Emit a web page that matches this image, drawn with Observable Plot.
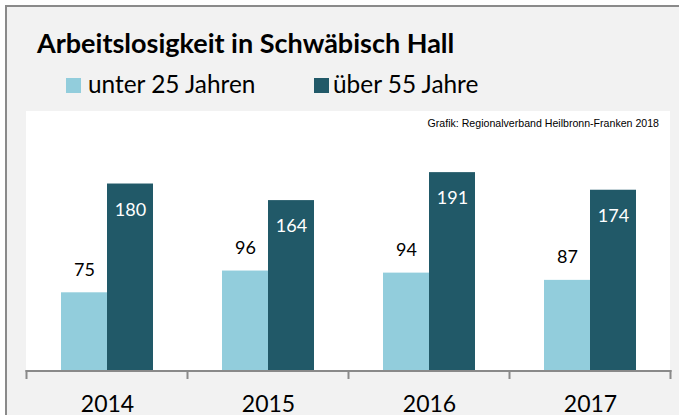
<!DOCTYPE html>
<html>
<head>
<meta charset="utf-8">
<script src="https://cdn.jsdelivr.net/npm/d3@7"></script>
<script src="https://cdn.jsdelivr.net/npm/@observablehq/plot@0.6"></script>
<style>
  html, body { margin: 0; padding: 0; background: #ffffff; }
  #page { position: relative; width: 679px; height: 415px; overflow: hidden; background: #ffffff; }
  #frame { position: absolute; left: 5px; top: 5px; right: -10px; bottom: -10px;
           border-left: 2px solid #8a8a8a; border-top: 2px solid #8a8a8a; background: #f2f2f2; }
  #white { position: absolute; left: 26px; top: 111px; width: 644px; height: 259px; background: #ffffff; }
  #title { position: absolute; left: 37px; top: 29px; font-family: Lato, sans-serif; font-weight: bold;
           font-size: 27px; line-height: 1; color: #000; white-space: nowrap; }
  .leg { position: absolute; top: 72px; font-family: Lato, sans-serif; font-size: 24.4px; line-height: 1;
         color: #000; white-space: nowrap; }
  .sw { position: absolute; top: 78px; width: 15px; height: 15px; }
  #credit { position: absolute; right: 20px; top: 118px; font-family: "Liberation Sans", Arial, sans-serif;
            font-size: 10.6px; line-height: 1; color: #000; white-space: nowrap; }
  #chart { position: absolute; left: 0; top: 111px; }
  #chart svg text { font-weight: normal; }
</style>
</head>
<body>
<div id="page">
  <div id="frame"></div>
  <div id="white"></div>
  <div id="title"></div>
  <div id="legend"></div>
  <div id="credit"></div>
  <div id="chart"></div>
</div>
<script>
const titleText = "Arbeitslosigkeit in Schwäbisch Hall";
const creditText = "Grafik: Regionalverband Heilbronn-Franken 2018";
const years = ["2014", "2015", "2016", "2017"];
const seriesNames = ["unter 25 Jahren", "über 55 Jahre"];
const seriesColors = ["#92cddc", "#215968"];
const under25 = [75, 96, 94, 87];
const over55 = [180, 164, 191, 174];

document.getElementById("title").textContent = titleText;
document.getElementById("credit").textContent = creditText;

// legend
const legend = document.getElementById("legend");
const legendSwatchX = [66, 314];
const legendTextX = [88, 333];
seriesNames.forEach((name, i) => {
  const sw = document.createElement("div");
  sw.className = "sw";
  sw.style.left = legendSwatchX[i] + "px";
  sw.style.background = seriesColors[i];
  legend.appendChild(sw);
  const t = document.createElement("div");
  t.className = "leg";
  t.style.left = legendTextX[i] + "px";
  t.textContent = name;
  legend.appendChild(t);
});

const rows = [];
years.forEach((y, i) => {
  rows.push({year: y, series: seriesNames[0], value: under25[i]});
  rows.push({year: y, series: seriesNames[1], value: over55[i]});
});

const plot = Plot.plot({
  width: 679,
  height: 304,
  marginLeft: 26,
  marginRight: 9,
  marginTop: 0,
  marginBottom: 45,
  style: {background: "transparent", fontFamily: "Lato, sans-serif", fontSize: "23px", color: "#000"},
  facet: {data: rows, x: "year"},
  fx: {domain: years, paddingInner: 0.4286, paddingOuter: 0.2143, axis: "bottom", label: null, tickSize: 0, tickPadding: 25},
  x: {domain: seriesNames, padding: 0, axis: null},
  y: {domain: [0, 250], axis: null},
  color: {domain: seriesNames, range: seriesColors},
  marks: [
    Plot.barY(rows, {x: "series", y: "value", fill: "series"}),
    Plot.text(rows, {filter: d => d.series === seriesNames[0], x: "series", y: "value", text: d => String(d.value),
      dy: -23, fill: "#000", fontSize: 18, fontFamily: "Lato, sans-serif"}),
    Plot.text(rows, {filter: d => d.series === seriesNames[1], x: "series", y: "value", text: d => String(d.value),
      dy: 26, fill: "#fff", fontSize: 18, fontFamily: "Lato, sans-serif"})
  ]
});
document.getElementById("chart").appendChild(plot);

// category axis line with ticks at band boundaries, from the fx scale
const fx = plot.scale("fx");
const ys = plot.scale("y");
const gap = (fx.step - fx.bandwidth) / 2;
const bounds = years.map(y => fx.apply(y) - gap);
bounds.push(fx.apply(years[years.length - 1]) + fx.bandwidth + gap);
const y0 = ys.apply(0);
const svg = d3.select(plot.tagName.toLowerCase() === "svg" ? plot : plot.querySelector("svg"));
const g = svg.append("g").attr("stroke", "#8a8a8a").attr("stroke-width", 2);
g.append("line").attr("x1", bounds[0] - 1).attr("x2", bounds[bounds.length - 1] + 1).attr("y1", y0 + 1).attr("y2", y0 + 1);
bounds.forEach(b => g.append("line").attr("x1", b).attr("x2", b).attr("y1", y0).attr("y2", y0 + 9));
</script>
</body>
</html>
